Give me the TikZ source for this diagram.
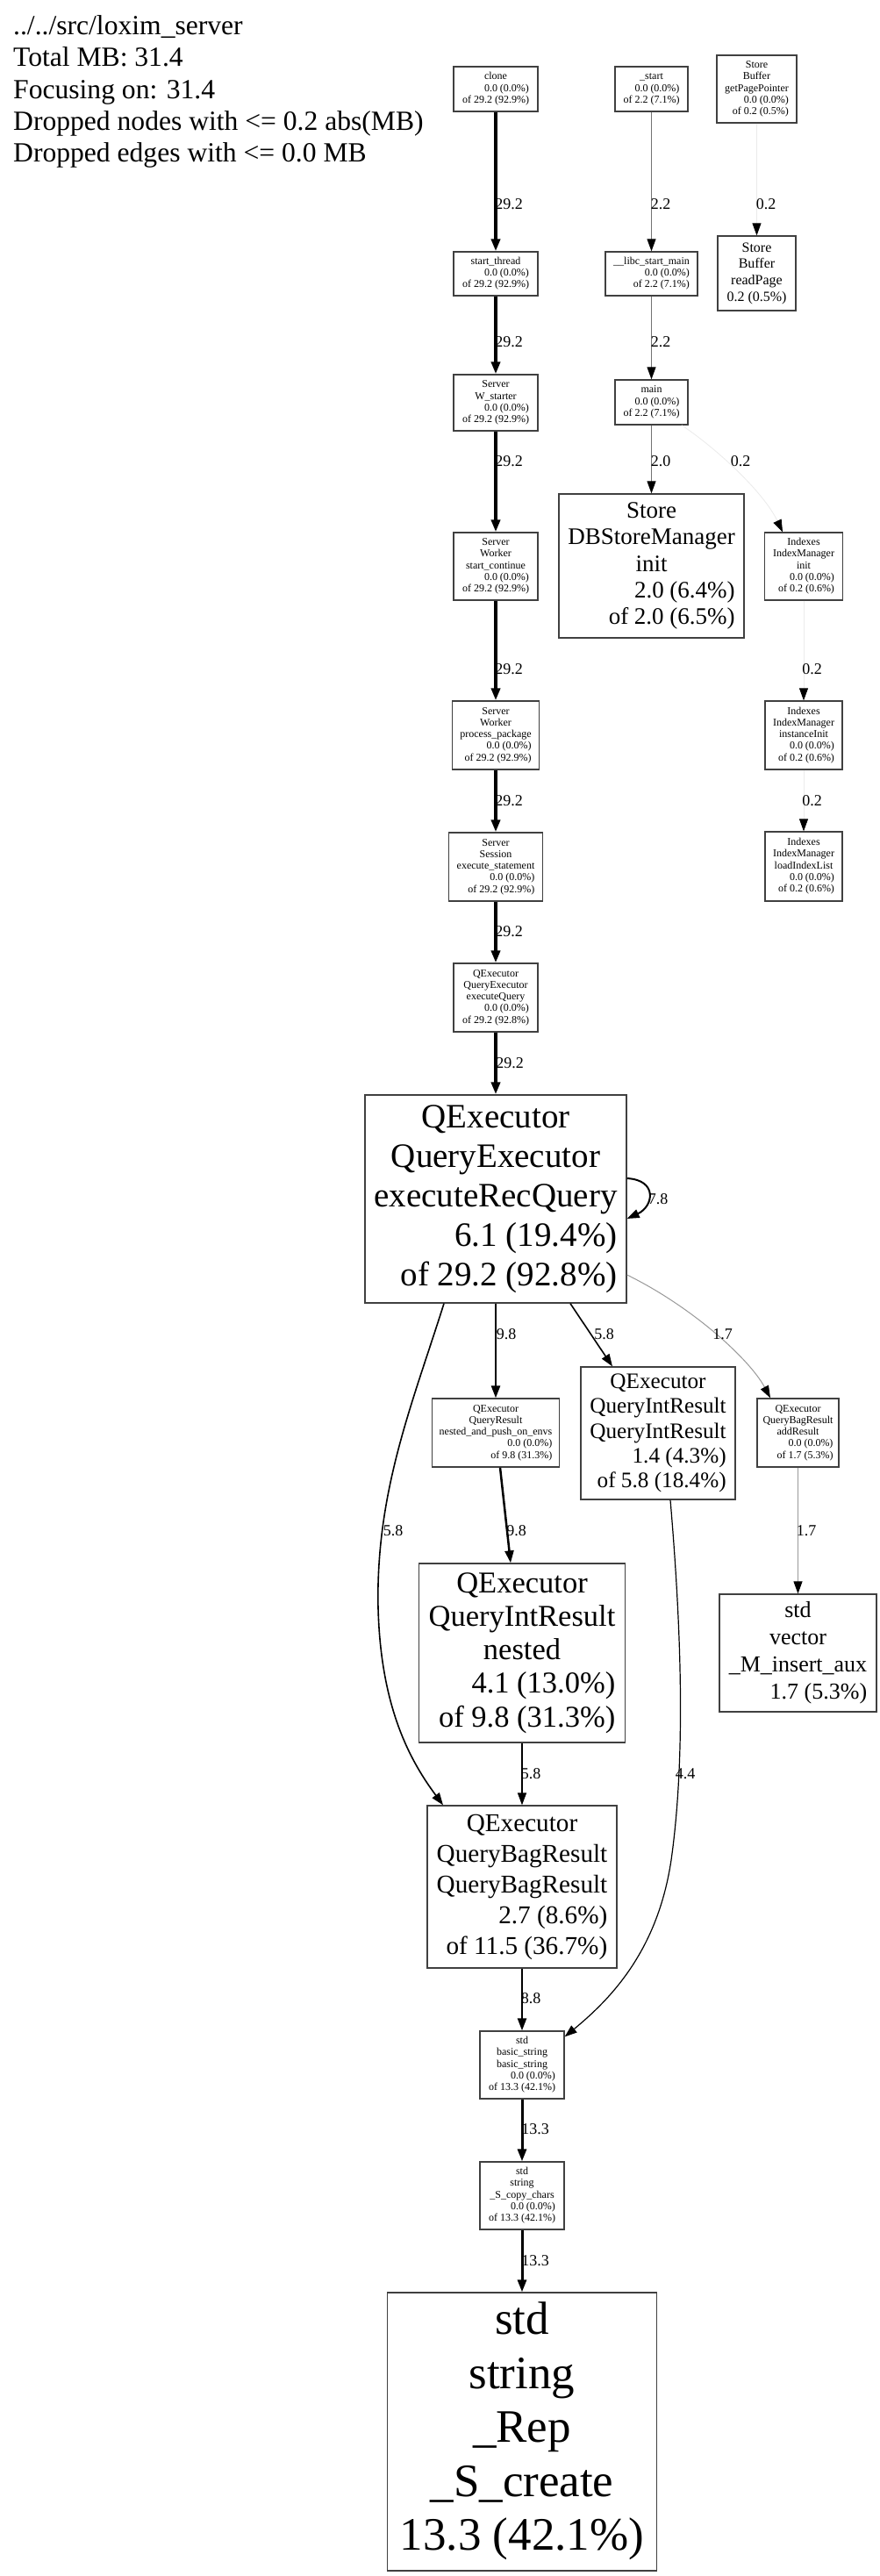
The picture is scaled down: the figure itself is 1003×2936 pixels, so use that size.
\documentclass[tikz,border=0pt]{standalone}
\usepackage{fontspec}
\setmainfont{Liberation Serif}
\usetikzlibrary{arrows.meta}
\newcommand\fsz[2]{\fontsize{#1}{#2}\selectfont}
\newcommand\rgt[1]{\multicolumn{1}{@{}r@{}}{#1}}
\newcommand\boxtxt[1]{\begin{tabular}{@{}c@{}}#1\end{tabular}}
\tikzset{
  pbox/.style={draw=black!75, line width=1.3pt, rectangle, inner sep=0pt, fill=white, text=black},
  small/.style={font=\fsz{12}{13.3}},
  elab/.style={font=\fsz{18}{20}, inner sep=0pt},
  head/.style={font=\fsz{31.6}{36}, inner sep=0pt, anchor=base west},
  e/.style={-{Triangle[length=14pt,width=10pt,color=black]}},
  e292/.style={e, line width=3.5pt, black},
  e133/.style={e, line width=3pt, black},
  e98/.style={e, line width=2.5pt, black},
  e88/.style={e, line width=2.3pt, black},
  e78/.style={e, line width=2pt, black},
  e58/.style={e, line width=1.6pt, black},
  e44/.style={e, line width=1.2pt, black},
  e22/.style={e, line width=1pt, black!55},
  e17/.style={e, line width=1pt, black!40},
  e02/.style={e, line width=0.8pt, black!8},
}
\begin{document}
\begin{tikzpicture}[x=1pt,y=-1pt]
\path[use as bounding box, fill=white] (0,0) rectangle (1003,2936);

% header
\node[head] (h1) at (15,40) {../../src/loxim\_server};
\node[head] (h2) at (15,76) {Total MB: 31.4};
\node[head] (h3) at (15,112) {Focusing on: 31.4};
\node[head] (h4) at (15,148) {Dropped nodes with <= 0.2 abs(MB)};
\node[head] (h5) at (15,184) {Dropped edges with <= 0.0 MB};

% main chain
\node[pbox,small,minimum width=96,minimum height=51] (clone) at (565,101.5)
  {\boxtxt{clone\\ \rgt{0.0 (0.0\%)}\\ \rgt{of 29.2 (92.9\%)}}};
\node[pbox,small,minimum width=96,minimum height=50] (sthread) at (565,312)
  {\boxtxt{start\_thread\\ \rgt{0.0 (0.0\%)}\\ \rgt{of 29.2 (92.9\%)}}};
\node[pbox,small,minimum width=96,minimum height=64] (wstarter) at (565,459)
  {\boxtxt{Server\\ W\_starter\\ \rgt{0.0 (0.0\%)}\\ \rgt{of 29.2 (92.9\%)}}};
\node[pbox,small,minimum width=96,minimum height=77] (scont) at (565,645.5)
  {\boxtxt{Server\\ Worker\\ start\_continue\\ \rgt{0.0 (0.0\%)}\\ \rgt{of 29.2 (92.9\%)}}};
\node[pbox,small,minimum width=99,minimum height=78] (ppack) at (565,838)
  {\boxtxt{Server\\ Worker\\ process\_package\\ \rgt{0.0 (0.0\%)}\\ \rgt{of 29.2 (92.9\%)}}};
\node[pbox,small,minimum width=107,minimum height=78] (exst) at (565,988)
  {\boxtxt{Server\\ Session\\ execute\_statement\\ \rgt{0.0 (0.0\%)}\\ \rgt{of 29.2 (92.9\%)}}};
\node[pbox,small,minimum width=96,minimum height=78] (exq) at (565,1137)
  {\boxtxt{QExecutor\\ QueryExecutor\\ executeQuery\\ \rgt{0.0 (0.0\%)}\\ \rgt{of 29.2 (92.8\%)}}};
\node[pbox,font=\fsz{39}{45},minimum width=298,minimum height=237] (erq) at (565,1366.5)
  {\boxtxt{QExecutor\\ QueryExecutor\\ executeRecQuery\\ \rgt{6.1 (19.4\%)}\\ \rgt{of 29.2 (92.8\%)}}};
\node[pbox,small,minimum width=145,minimum height=78] (nap) at (565,1633)
  {\boxtxt{QExecutor\\ QueryResult\\ nested\_and\_push\_on\_envs\\ \rgt{0.0 (0.0\%)}\\ \rgt{of 9.8 (31.3\%)}}};
\node[pbox,font=\fsz{25.2}{28.2},minimum width=176,minimum height=151] (qirq) at (750,1633.5)
  {\boxtxt{QExecutor\\ QueryIntResult\\ QueryIntResult\\ \rgt{1.4 (4.3\%)}\\ \rgt{of 5.8 (18.4\%)}}};
\node[pbox,small,minimum width=93,minimum height=78] (addr) at (909.5,1633)
  {\boxtxt{QExecutor\\ QueryBagResult\\ addResult\\ \rgt{0.0 (0.0\%)}\\ \rgt{of 1.7 (5.3\%)}}};
\node[pbox,font=\fsz{34.5}{38.3},minimum width=235,minimum height=204] (qirn) at (595,1884)
  {\boxtxt{QExecutor\\ QueryIntResult\\ nested\\ \rgt{4.1 (13.0\%)}\\ \rgt{of 9.8 (31.3\%)}}};
\node[pbox,font=\fsz{26}{30.9},minimum width=179,minimum height=134] (vec) at (909.5,1884)
  {\boxtxt{std\\ vector\\ \_M\_insert\_aux\\ \rgt{1.7 (5.3\%)}}};
\node[pbox,font=\fsz{29.2}{35},minimum width=216,minimum height=185] (qbr) at (595,2150.5)
  {\boxtxt{QExecutor\\ QueryBagResult\\ QueryBagResult\\ \rgt{2.7 (8.6\%)}\\ \rgt{of 11.5 (36.7\%)}}};
\node[pbox,small,minimum width=96,minimum height=77] (bstr) at (595,2353.5)
  {\boxtxt{std\\ basic\_string\\ basic\_string\\ \rgt{0.0 (0.0\%)}\\ \rgt{of 13.3 (42.1\%)}}};
\node[pbox,small,minimum width=96,minimum height=77] (scc) at (595,2502.5)
  {\boxtxt{std\\ string\\ \_S\_copy\_chars\\ \rgt{0.0 (0.0\%)}\\ \rgt{of 13.3 (42.1\%)}}};
\node[pbox,font=\fsz{53}{61.5},minimum width=307,minimum height=317] (screate) at (595,2771.5)
  {\boxtxt{std\\ string\\ \_Rep\\ \_S\_create\\ \rgt{13.3 (42.1\%)}}};

% second column
\node[pbox,small,minimum width=83,minimum height=51] (start) at (742.5,101.5)
  {\boxtxt{\_start\\ \rgt{0.0 (0.0\%)}\\ \rgt{of 2.2 (7.1\%)}}};
\node[pbox,small,minimum width=105,minimum height=50] (libc) at (742.5,312)
  {\boxtxt{\_\_libc\_start\_main\\ \rgt{0.0 (0.0\%)}\\ \rgt{of 2.2 (7.1\%)}}};
\node[pbox,small,minimum width=83,minimum height=51] (main) at (742.5,458.5)
  {\boxtxt{main\\ \rgt{0.0 (0.0\%)}\\ \rgt{of 2.2 (7.1\%)}}};
\node[pbox,font=\fsz{27}{30.3},minimum width=211,minimum height=164] (dbsm) at (742.5,645)
  {\boxtxt{Store\\ DBStoreManager\\ init\\ \rgt{2.0 (6.4\%)}\\ \rgt{of 2.0 (6.5\%)}}};

% right column
\node[pbox,small,minimum width=91,minimum height=77] (gpp) at (862.5,101.5)
  {\boxtxt{Store\\ Buffer\\ getPagePointer\\ \rgt{0.0 (0.0\%)}\\ \rgt{of 0.2 (0.5\%)}}};
\node[pbox,font=\fsz{16}{18.7},minimum width=89,minimum height=85] (rpage) at (862.5,311.5)
  {\boxtxt{Store\\ Buffer\\ readPage\\ \rgt{0.2 (0.5\%)}}};
\node[pbox,small,minimum width=89,minimum height=77] (imi) at (916,645.5)
  {\boxtxt{Indexes\\ IndexManager\\ init\\ \rgt{0.0 (0.0\%)}\\ \rgt{of 0.2 (0.6\%)}}};
\node[pbox,small,minimum width=88,minimum height=78] (imii) at (916,838)
  {\boxtxt{Indexes\\ IndexManager\\ instanceInit\\ \rgt{0.0 (0.0\%)}\\ \rgt{of 0.2 (0.6\%)}}};
\node[pbox,small,minimum width=88,minimum height=79] (imll) at (916,987.5)
  {\boxtxt{Indexes\\ IndexManager\\ loadIndexList\\ \rgt{0.0 (0.0\%)}\\ \rgt{of 0.2 (0.6\%)}}};

% edges: main chain
\draw[e292] (clone.south) -- (sthread.north);
\draw[e292] (sthread.south) -- (wstarter.north);
\draw[e292] (wstarter.south) -- (scont.north);
\draw[e292] (scont.south) -- (ppack.north);
\draw[e292] (ppack.south) -- (exst.north);
\draw[e292] (exst.south) -- (exq.north);
\draw[e292] (exq.south) -- (erq.north);
\draw[e78] ([yshift=23.5pt]erq.east) .. controls (750,1345) and (745,1375) .. ([yshift=-22.5pt]erq.east);
\draw[e98] (erq.south) -- (nap.north);
\draw[e58] ([xshift=85pt]erq.south) -- ([xshift=-52pt]qirq.north);
\draw[e17] ([yshift=-86.5pt]erq.east) .. controls (790,1490) and (855,1550) .. ([xshift=-31.5pt]addr.north);
\draw[e58] ([xshift=-59pt]erq.south) .. controls (470,1600) and (428,1700) .. (431,1833)
  .. controls (434,1950) and (470,2010) .. ([xshift=-90pt]qbr.north);
\draw[e98] ([xshift=5pt]nap.south) -- ([xshift=-13pt]qirn.north);
\draw[e44] ([xshift=14pt]qirq.south) .. controls (776,1850) and (782,2000) .. (765,2120)
  .. controls (750,2220) and (700,2275) .. ([yshift=-7pt]bstr.north east);
\draw[e17] (addr.south) -- (vec.north);
\draw[e58] (qirn.south) -- (qbr.north);
\draw[e88] (qbr.south) -- (bstr.north);
\draw[e133] (bstr.south) -- (scc.north);
\draw[e133] (scc.south) -- (screate.north);
% second column
\draw[e22] (start.south) -- (libc.north);
\draw[e22] (libc.south) -- (main.north);
\draw[e22] (main.south) -- (dbsm.north);
\draw[e02] ([xshift=34.5pt]main.south) .. controls (815,510) and (870,560) .. ([xshift=-24pt]imi.north);
% right column
\draw[e02] (gpp.south) -- (rpage.north);
\draw[e02] (imi.south) -- (imii.north);
\draw[e02] (imii.south) -- (imll.north);

% edge labels
\node[elab] (l1) at (580,233) {29.2};
\node[elab] (l2) at (580,390) {29.2};
\node[elab] (l3) at (580,526) {29.2};
\node[elab] (l4) at (580,763) {29.2};
\node[elab] (l5) at (580,913) {29.2};
\node[elab] (l6) at (580,1062) {29.2};
\node[elab] (l7) at (581,1212) {29.2};
\node[elab] (l8) at (750,1367) {7.8};
\node[elab] (l9) at (577,1521) {9.8};
\node[elab] (l10) at (688.5,1521) {5.8};
\node[elab] (l11) at (823.5,1521) {1.7};
\node[elab] (l12) at (448,1745) {5.8};
\node[elab] (l13) at (588.5,1745) {9.8};
\node[elab] (l14) at (919,1745) {1.7};
\node[elab] (l15) at (605,2022) {5.8};
\node[elab] (l16) at (781,2022) {4.4};
\node[elab] (l17) at (605,2278) {8.8};
\node[elab] (l18) at (610,2427) {13.3};
\node[elab] (l19) at (610,2577) {13.3};
\node[elab] (l20) at (753,233) {2.2};
\node[elab] (l21) at (753,390) {2.2};
\node[elab] (l22) at (753,526) {2.0};
\node[elab] (l23) at (844,526) {0.2};
\node[elab] (l24) at (873,233) {0.2};
\node[elab] (l25) at (925.5,763) {0.2};
\node[elab] (l26) at (925.5,913) {0.2};
\end{tikzpicture}
\end{document}
